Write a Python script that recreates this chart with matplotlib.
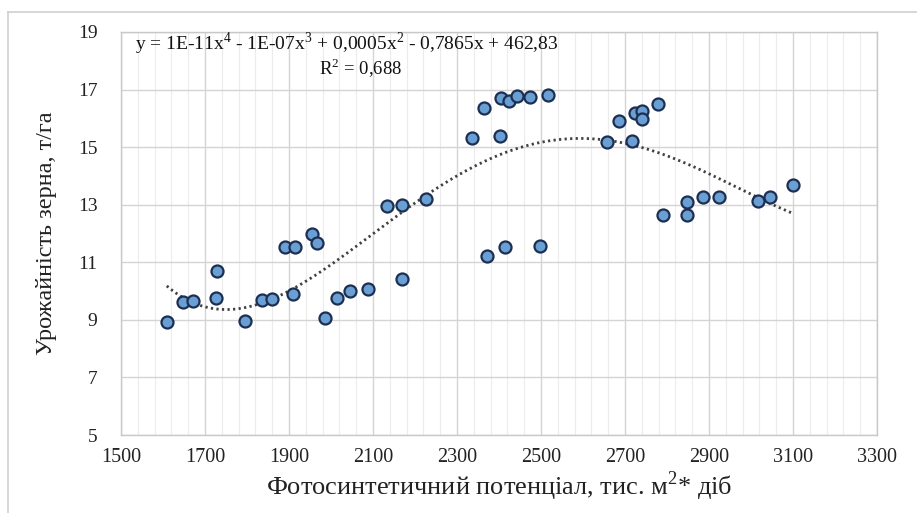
import numpy as np
import matplotlib
matplotlib.use('Agg')
import matplotlib.pyplot as plt
from matplotlib.ticker import FixedLocator
from matplotlib.lines import Line2D

# photosynthetic potential (thous. m2*days) and grain yield (t/ha)
potential = [1609, 1647, 1671, 1726, 1729, 1795, 1836, 1860, 1890, 1910,
             1914, 1955, 1967, 1986, 2014, 2045, 2088, 2133, 2169, 2169,
             2226, 2336, 2364, 2371, 2402, 2405, 2414, 2424, 2443, 2474,
             2498, 2517, 2657, 2686, 2717, 2724, 2740, 2740, 2779, 2791,
             2848, 2848, 2886, 2924, 3017, 3045, 3100]
grain_yield = [8.93, 9.62, 9.66, 9.76, 10.70, 8.96, 9.69, 9.73, 11.53, 9.90,
               11.53, 11.98, 11.67, 9.07, 9.76, 10.00, 10.07, 12.94, 12.99, 10.42,
               13.20, 15.32, 16.36, 11.22, 15.39, 16.70, 11.53, 16.60, 16.78, 16.74,
               11.57, 16.80, 15.18, 15.90, 15.21, 16.19, 16.26, 15.98, 16.50, 12.64,
               13.10, 12.64, 13.27, 13.27, 13.13, 13.27, 13.70]

x_ticks = [1500, 1700, 1900, 2100, 2300, 2500, 2700, 2900, 3100, 3300]
y_ticks = [5, 7, 9, 11, 13, 15, 17, 19]

eq_text = 'y = 1E-11x$^4$ - 1E-07x$^3$ + 0,0005x$^2$ - 0,7865x + 462,83'
r2_text = 'R$^2$ = 0,688'

plt.rcParams['font.family'] = ['Liberation Serif', 'DejaVu Serif']
plt.rcParams['mathtext.fontset'] = 'custom'
plt.rcParams['mathtext.rm'] = 'Liberation Serif'

fig = plt.figure(figsize=(9.17, 5.13), dpi=100)
ax = fig.add_axes([121/917, 1 - 435/513, (877-121)/917, (435-32)/513])

x = np.array(potential, dtype=float)
y = np.array(grain_yield, dtype=float)

# 4th order polynomial trend, as in the spreadsheet
coef = np.polyfit(x, y, 4)
xs = np.linspace(x.min(), x.max(), 300)
ax.plot(xs, np.polyval(coef, xs), color='#404040', lw=2.0, ls=(0, (0.8, 1.2)), zorder=2)

ax.scatter(x, y, s=75, color='#6a9fd4', edgecolor='#1c2f52', linewidth=1.6, zorder=3)

ax.set_xlim(1500, 3300)
ax.set_ylim(5, 19)
ax.xaxis.set_major_locator(FixedLocator(x_ticks))
ax.xaxis.set_minor_locator(FixedLocator(np.arange(1500, 3301, 40)))
ax.yaxis.set_major_locator(FixedLocator(y_ticks))
ax.grid(which='major', color='#d4d4d4', lw=1.0)
ax.grid(which='minor', axis='x', color='#ececec', lw=0.8)
ax.set_axisbelow(True)
ax.tick_params(which='both', length=0, colors='#222222')
ax.tick_params(axis='x', labelsize=14.5, pad=9)
ax.tick_params(axis='y', labelsize=14, pad=17)
for s in ax.spines.values():
    s.set_color('#c8c8c8')
    s.set_linewidth(1.0)

ax.set_xlabel('Фотосинтетичний потенціал, тис. м$^2$* діб', fontsize=19, color='#222222', labelpad=2)
ax.set_ylabel('Урожайність зерна, т/га', fontsize=17.5, color='#222222', labelpad=15)

ax.text(0.0185, 0.970, eq_text, transform=ax.transAxes, fontsize=14, color='#111111',
        ha='left', va='center')
ax.text(0.317, 0.911, r2_text, transform=ax.transAxes, fontsize=13.5, color='#111111',
        ha='center', va='center')

# outer chart frame (left and top edges only visible)
fig.add_artist(Line2D([8/917, 8/917], [0, 1 - 12/513], transform=fig.transFigure, color='#d0d0d0', lw=1.2))
fig.add_artist(Line2D([8/917, 1], [1 - 12/513, 1 - 12/513], transform=fig.transFigure, color='#d0d0d0', lw=1.2))

fig.savefig('out.png', dpi=100)
